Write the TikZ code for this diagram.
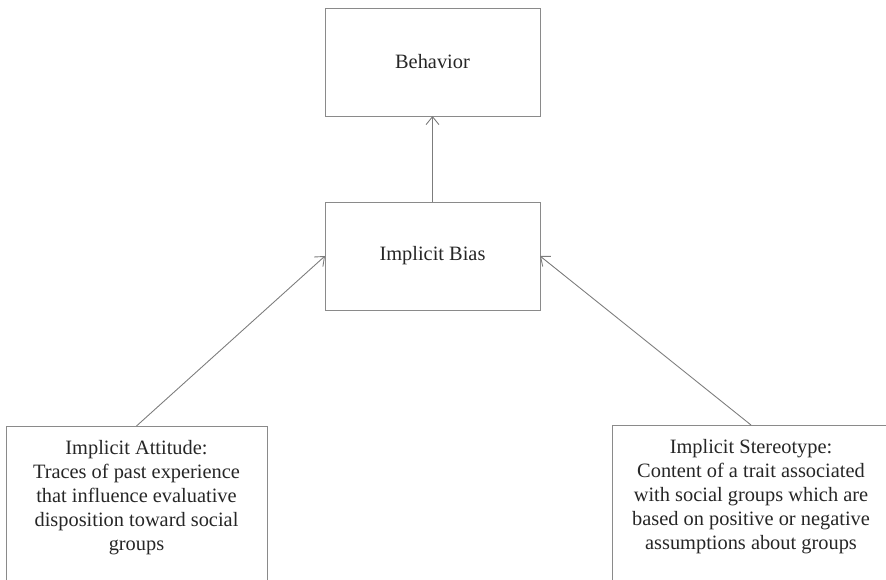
\documentclass[tikz,border=0pt]{standalone}
\usepackage{fontspec}
\setmainfont{Liberation Serif}
\usepackage{tikz}
\usetikzlibrary{arrows.meta, positioning}
\definecolor{IB_LINE}{HTML}{8a8a8a}
\definecolor{IB_TEXT}{HTML}{262626}
\tikzset{
  blk/.style={
    rectangle, inner sep=0pt, outer sep=0pt,
    minimum width=43mm, minimum height=21.6mm,
    text centered, align=center,
    draw=IB_LINE, line width=0.5pt, text=IB_TEXT,
    font=\fontsize{11.6}{13.6}\selectfont},
  defbox/.style={
    rectangle, anchor=north, inner xsep=0pt, inner ysep=2.9mm, outer sep=0pt,
    text depth=45mm,
    text centered, align=center,
    draw=IB_LINE, line width=0.5pt, text=IB_TEXT,
    font=\fontsize{11.6}{13.6}\selectfont},
  arr/.style={-{Straight Barb[length=1.6mm,width=2.6mm]}, line width=0.5pt, color=IB_LINE!90!black},
}
\begin{document}
\begin{tikzpicture}[x=0.2mm, y=-0.2mm]

  \useasboundingbox (0,0) rectangle (886,580);
  \clip (0,0) rectangle (886,580);

  \node[blk] (bias) at (432.5,256) {Implicit Bias};

  \node[blk, above=17.2mm of bias] (beh) {Behavior};

  \node[defbox, minimum width=52.2mm] (att) at (136.5,426)
    {Implicit Attitude:\\Traces of past experience\\that influence evaluative\\disposition toward social\\groups};

  \node[defbox, minimum width=55.6mm] (ster) at (751,425)
    {Implicit Stereotype:\\Content of a trait associated\\with social groups which are\\based on positive or negative\\assumptions about groups};

  \draw[arr] (bias) -- (beh);
  \draw[arr] (att.north)  -- (bias.west);
  \draw[arr] (ster.north) -- (bias.east);

\end{tikzpicture}
\end{document}
